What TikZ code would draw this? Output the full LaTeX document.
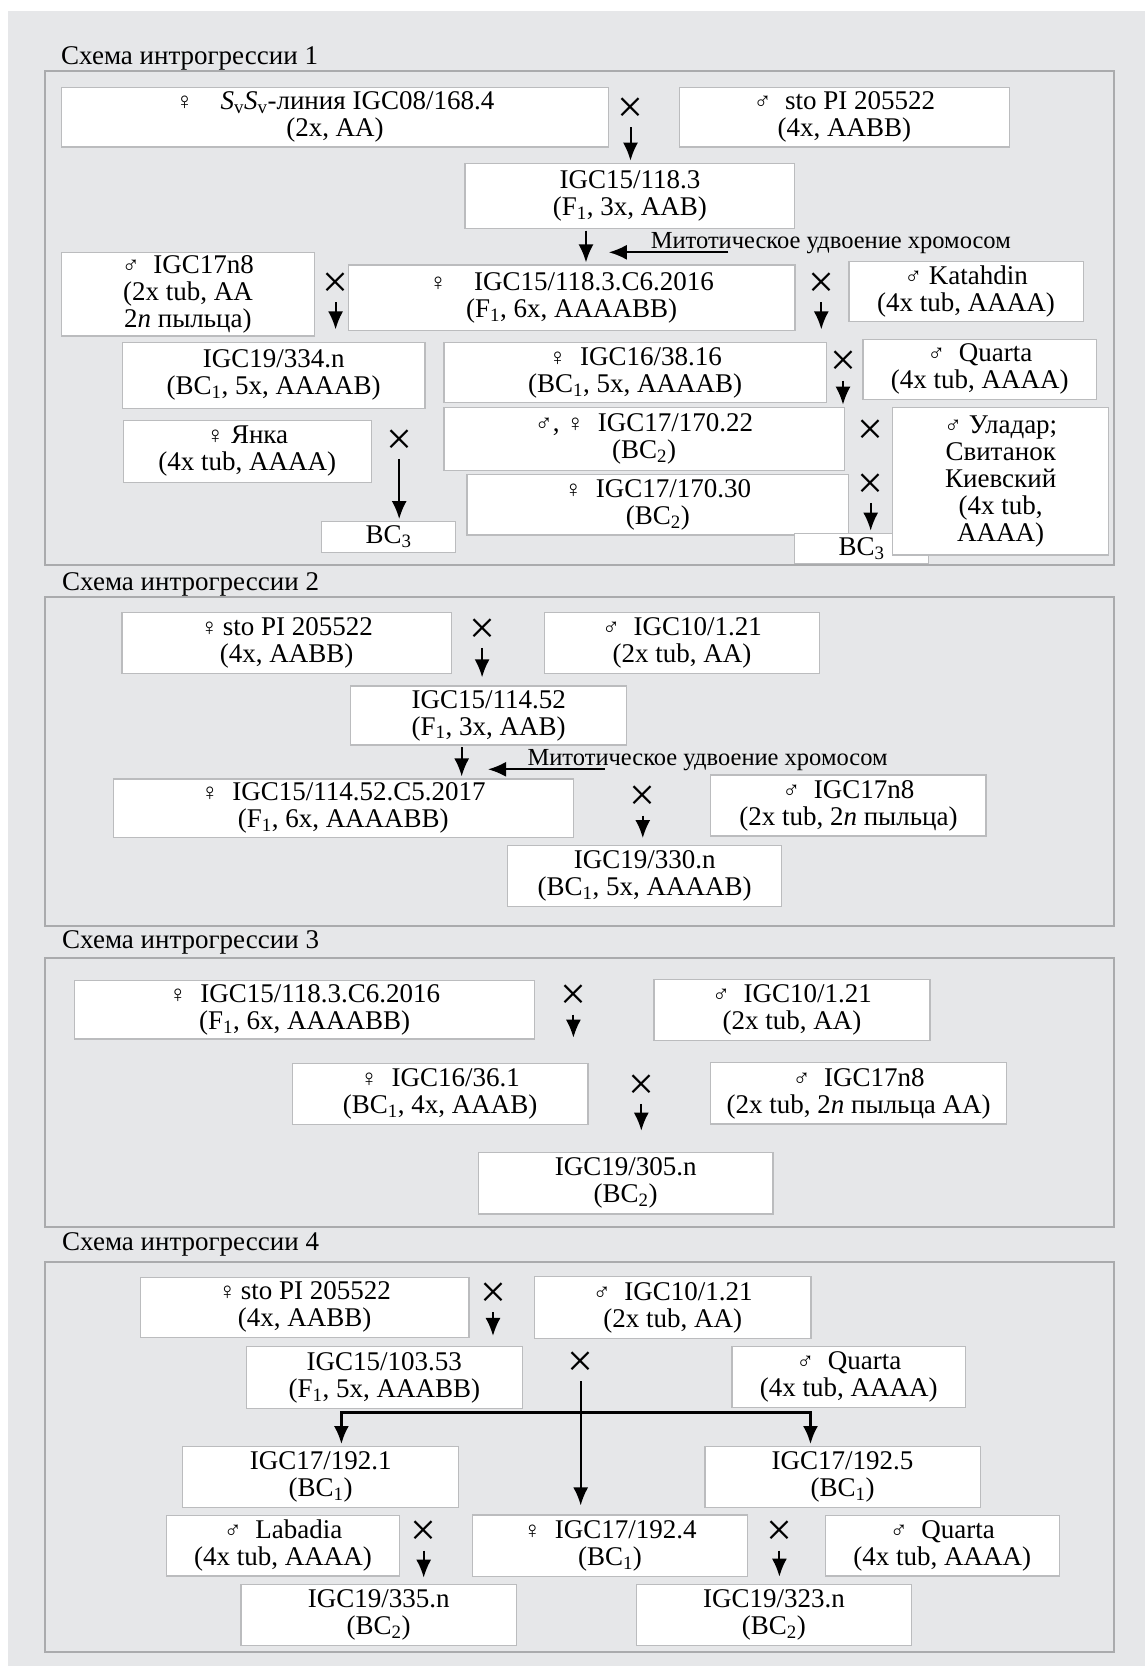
\documentclass[tikz,border=0pt]{standalone}
\usepackage{fontspec}
\setmainfont{Liberation Serif}
\usepackage{xcolor}
\usetikzlibrary{arrows.meta}
\definecolor{bggray}{HTML}{E6E7E9}
\definecolor{framegray}{HTML}{AAABAD}
\definecolor{boxgray}{HTML}{BBBCBE}
\newcommand{\fsym}{{\fontsize{24}{24}\selectfont ♀}}
\newcommand{\msym}{{\fontsize{24}{24}\selectfont ♂}}
\newcommand{\Sv}{\textit{S}\textsubscript{v}}

\begin{document}
\begin{tikzpicture}[x=1pt, y=-1pt,
  box/.style={draw=boxgray, line width=1.3pt, fill=white, inner sep=0pt,
              align=center, font=\fontsize{27}{27}\selectfont},
  wh/.style 2 args={minimum width=#1pt, minimum height=#2pt},
  panel/.style={draw=framegray, line width=2pt},
  title/.style={anchor=base west, inner sep=0pt, font=\fontsize{27}{27}\selectfont},
  note/.style={anchor=base west, inner sep=0pt, font=\fontsize{24.5}{24.5}\selectfont},
  cross/.style={inner sep=0pt, minimum height=30pt, font=\fontsize{46}{46}\selectfont},
  arr/.style={->, line width=2pt, shorten <=2pt, shorten >=2pt},
  >={Latex[length=18pt, width=15pt]}
]
\useasboundingbox (0,0) rectangle (1145,1666);
\fill[bggray] (8,11) rectangle (1145,1666);

% scheme 1
\node[title] (t1) at (61,64) {Схема интрогрессии 1};
\draw[panel] (44.8,70.7) rectangle (1113.6,565);
\node[box, wh={547.6}{59.7}] (svsv) at (335,117.2) {\fsym\quad\Sv\Sv-линия IGC08/168.4\\(2x, AA)};
\node[box, wh={329.8}{59.7}] (stom) at (844.3,117.2) {\msym\ \ sto PI 205522\\(4x, AABB)};
\node[box, wh={329.8}{65.4}] (f1a) at (629.9,196) {IGC15/118.3\\(F\textsubscript{1}, 3x, AAB)};
\node[box, wh={253.4}{83.7}] (n8a) at (187.9,294.2) {\msym\ \ IGC17n8\\(2x tub, AA\\2\textit{n} пыльца)};
\node[box, wh={446.5}{65.7}] (c6a) at (571.6,297.9) {\fsym\quad IGC15/118.3.C6.2016\\(F\textsubscript{1}, 6x, AAAABB)};
\node[box, wh={234.2}{60}] (kat) at (966.1,291.7) {\msym\ Katahdin\\(4x tub, AAAA)};
\node[box, wh={302.3}{66}] (b334) at (273.7,375.3) {IGC19/334.n\\(BC\textsubscript{1}, 5x, AAAAB)};
\node[box, wh={382.3}{60.4}] (b3816) at (635.2,372.5) {\fsym\ \ IGC16/38.16\\(BC\textsubscript{1}, 5x, AAAAB)};
\node[box, wh={233.4}{60}] (qua1) at (979.8,369.3) {\msym\ \ Quarta\\(4x tub, AAAA)};
\node[box, wh={400.1}{63.4}] (b17022) at (644.1,439) {\msym, \fsym\ \ IGC17/170.22\\(BC\textsubscript{2})};
\node[box, wh={248}{61.6}] (yanka) at (247.2,451.5) {\fsym\ Янка\\(4x tub, AAAA)};
\node[box, wh={381.8}{60.7}] (b17030) at (657.8,504.7) {\fsym\ \ IGC17/170.30\\(BC\textsubscript{2})};
\node[box, wh={133.6}{30}] (bc3b) at (861.6,548.3) {BC\textsubscript{3}};
\node[box, wh={215.9}{147.7}] (uladar) at (1000.7,481.2) {\msym\ Уладар;\\Свитанок\\Киевский\\(4x tub,\\AAAA)};
\node[box, wh={133.9}{30.6}] (bc3a) at (388.5,537) {BC\textsubscript{3}};
\node[cross] (x1) at (630.5,110) {×};
\node[cross] (x2) at (335.6,285) {×};
\node[cross] (x3) at (821.3,285) {×};
\node[cross] (x4) at (843,363.3) {×};
\node[cross] (x5) at (399.2,441.7) {×};
\node[cross] (x6) at (870.7,431.7) {×};
\node[cross] (x7) at (870.7,485.7) {×};
\coordinate (d1) at (586,228.7);
\node[note] (mit1) at (650.6,248.3) {Митотическое удвоение хромосом};
\coordinate (m1s) at (728.4,252.3);
\coordinate (m1e) at (608.8,252.3);
\draw[arr] (x1.south) -- (x1.south |- f1a.north);
\draw[arr] (d1) -- (d1 |- c6a.north);
\draw[arr, shorten <=0pt, shorten >=0pt] (m1s) -- (m1e);
\draw[arr] (x2.south) -- (x2.south |- c6a.south);
\draw[arr] (x3.south) -- (x3.south |- c6a.south);
\draw[arr] (x4.south) -- (x4.south |- b17022.north);
\draw[arr] (x5.south) -- (x5.south |- bc3a.north);
\draw[arr] (x7.south) -- (x7.south |- bc3b.north);

% scheme 2
\node[title] (t2) at (62,590) {Схема интрогрессии 2};
\draw[panel] (45.3,597.3) rectangle (1114,925.7);
\node[box, wh={329.4}{61}] (stof2) at (286.7,642.8) {\fsym\,sto PI 205522\\(4x, AABB)};
\node[box, wh={275.4}{61}] (m1021a) at (681.9,642.8) {\msym\ \ IGC10/1.21\\(2x tub, AA)};
\node[box, wh={276.1}{59}] (f11452) at (488.7,715.5) {IGC15/114.52\\(F\textsubscript{1}, 3x, AAB)};
\node[box, wh={460.2}{58.3}] (c5) at (343.3,808.2) {\fsym\ \ IGC15/114.52.C5.2017\\(F\textsubscript{1}, 6x, AAAABB)};
\node[box, wh={275.4}{61}] (n8b) at (848.4,805.5) {\msym\ \ IGC17n8\\(2x tub, 2\textit{n} пыльца)};
\node[box, wh={273.9}{61}] (b330) at (644.7,876.2) {IGC19/330.n\\(BC\textsubscript{1}, 5x, AAAAB)};
\node[cross] (x8) at (482.1,630.7) {×};
\node[cross] (x9) at (642.8,798.3) {×};
\coordinate (d2) at (461.7,745);
\node[note] (mit2) at (527.4,765) {Митотическое удвоение хромосом};
\coordinate (m2s) at (604.8,769.3);
\coordinate (m2e) at (488,769.3);
\draw[arr, shorten >=8pt] (x8.south) -- (x8.south |- f11452.north);
\draw[arr] (d2) -- (d2 |- c5.north);
\draw[arr, shorten <=0pt, shorten >=0pt] (m2s) -- (m2e);
\draw[arr, shorten >=7pt] (x9.south) -- (x9.south |- b330.north);

% scheme 3
\node[title] (t3) at (62,948.3) {Схема интрогрессии 3};
\draw[panel] (45.3,958.3) rectangle (1114,1227.3);
\node[box, wh={460.2}{58.3}] (c6b) at (304.6,1009.9) {\fsym\ \ IGC15/118.3.C6.2016\\(F\textsubscript{1}, 6x, AAAABB)};
\node[box, wh={276.1}{61.4}] (m1021b) at (791.9,1010) {\msym\ \ IGC10/1.21\\(2x tub, AA)};
\node[box, wh={295.8}{61}] (b361) at (440.1,1093.8) {\fsym\ \ IGC16/36.1\\(BC\textsubscript{1}, 4x, AAAB)};
\node[box, wh={295.9}{61.3}] (n8c) at (858.7,1093.4) {\msym\ \ IGC17n8\\(2x tub, 2\textit{n} пыльца AA)};
\node[box, wh={294.3}{61.7}] (b305) at (625.7,1183.2) {IGC19/305.n\\(BC\textsubscript{2})};
\node[cross] (x10) at (573.4,997.3) {×};
\node[cross] (x11) at (641.3,1086.7) {×};
\draw[arr] (x10.south) -- (x10.south |- c6b.south);
\draw[arr, shorten >=21pt] (x11.south) -- (x11.south |- b305.north);

% scheme 4
\node[title] (t4) at (62,1250) {Схема интрогрессии 4};
\draw[panel] (45.3,1261.7) rectangle (1114,1652.3);
\node[box, wh={328.8}{60}] (stof4) at (304.6,1307.3) {\fsym\,sto PI 205522\\(4x, AABB)};
\node[box, wh={276.1}{61.6}] (m1021c) at (672.8,1307.5) {\msym\ \ IGC10/1.21\\(2x tub, AA)};
\node[box, wh={276.1}{61.6}] (b10353) at (384.3,1377.5) {IGC15/103.53\\(F\textsubscript{1}, 5x, AAABB)};
\node[box, wh={233.8}{60.6}] (qua2) at (848.8,1377) {\msym\ \ Quarta\\(4x tub, AAAA)};
\node[box, wh={276.1}{60.6}] (b1921) at (320.7,1477) {IGC17/192.1\\(BC\textsubscript{1})};
\node[box, wh={275.4}{60.6}] (b1925) at (842.6,1477) {IGC17/192.5\\(BC\textsubscript{1})};
\node[box, wh={233.1}{60.3}] (labadia) at (283,1545.9) {\msym\ \ Labadia\\(4x tub, AAAA)};
\node[box, wh={274.7}{61.7}] (b1924) at (610,1545.9) {\fsym\ \ IGC17/192.4\\(BC\textsubscript{1})};
\node[box, wh={233.8}{60.3}] (qua3) at (942.3,1545.9) {\msym\ \ Quarta\\(4x tub, AAAA)};
\node[box, wh={275.4}{61.4}] (b335) at (378.7,1615) {IGC19/335.n\\(BC\textsubscript{2})};
\node[box, wh={275.4}{61.4}] (b323) at (773.9,1615) {IGC19/323.n\\(BC\textsubscript{2})};
\node[cross] (x12) at (493,1295) {×};
\node[cross] (x13) at (580.7,1364) {×};
\node[cross] (x14) at (423.7,1533.3) {×};
\node[cross] (x15) at (779.4,1533.3) {×};
\coordinate (brl) at (341.4,1412.7);
\coordinate (brr) at (810.5,1412.7);
\draw[arr] (x12.south) -- (x12.south |- stof4.south);
\draw[arr, <->, line width=2.6pt, shorten <=2pt] (brl |- b1921.north) -- (brl) -- (brr) -- (brr |- b1925.north);
\draw[arr, shorten >=9pt] (x13.south) -- (x13.south |- b1924.north);
\draw[arr, shorten >=6pt] (x14.south) -- (x14.south |- b335.north);
\draw[arr, shorten >=7pt] (x15.south) -- (x15.south |- b323.north);
\end{tikzpicture}
\end{document}
